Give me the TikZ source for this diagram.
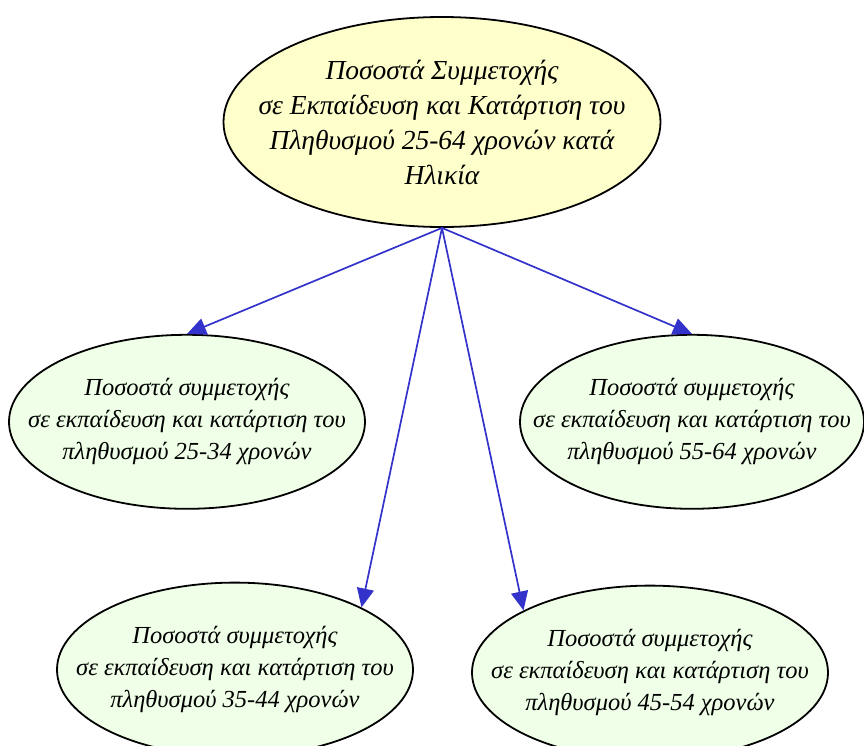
\documentclass[tikz,border=0pt]{standalone}
\usepackage{fontspec}
\setmainfont{Liberation Serif}
\usepackage{tikz}
\usetikzlibrary{shapes.geometric,arrows.meta,positioning}
\definecolor{rootfill}{RGB}{255,255,204}
\definecolor{leaffill}{RGB}{240,255,232}
\definecolor{linkcolor}{RGB}{51,51,204}

\begin{document}
\begin{tikzpicture}[
    x=1pt, y=1pt,
    root/.style={ellipse, draw, line width=1.8pt, fill=rootfill, inner xsep=-40pt, inner ysep=0pt, minimum width=437pt, minimum height=210pt, align=center, font=\itshape\fontsize{27.5}{35}\selectfont},
    leaf/.style={ellipse, draw, line width=1.8pt, fill=leaffill, inner xsep=-40pt, inner ysep=0pt, minimum width=356pt, minimum height=174pt, align=center, font=\itshape\fontsize{24.5}{32}\selectfont},
    arrow/.style={-{Triangle[length=19pt,width=17pt]}, line width=1.7pt, draw=linkcolor, fill=linkcolor}
]
    \useasboundingbox (-442,122) rectangle (422,-623);

    \node[root] (top) at (0,0) {Ποσοστά Συμμετοχής\\σε Εκπαίδευση και Κατάρτιση του\\ Πληθυσμού 25-64 χρονών κατά\\Ηλικία};

    \node[leaf, below=106pt of top, xshift=-255pt] (a2534) {Ποσοστά συμμετοχής\\σε εκπαίδευση και κατάρτιση του\\πληθυσμού 25-34 χρονών};
    \node[leaf, below=106pt of top, xshift=250pt, minimum width=344pt] (a5564) {Ποσοστά συμμετοχής\\σε εκπαίδευση και κατάρτιση του\\πληθυσμού 55-64 χρονών};
    \node[leaf, below=72pt of a2534, xshift=48pt] (a3544) {Ποσοστά συμμετοχής\\σε εκπαίδευση και κατάρτιση του\\πληθυσμού 35-44 χρονών};
    \node[leaf, below=75pt of a5564, xshift=-42pt] (a4554) {Ποσοστά συμμετοχής\\σε εκπαίδευση και κατάρτιση του\\πληθυσμού 45-54 χρονών};

    \draw[arrow] (top.south) -- (a2534.north);
    \draw[arrow] (top.south) -- (a5564.north);
    \draw[arrow] (top.south) -- (a3544.north east);
    \draw[arrow] (top.south) -- (a4554.north west);
\end{tikzpicture}
\end{document}
